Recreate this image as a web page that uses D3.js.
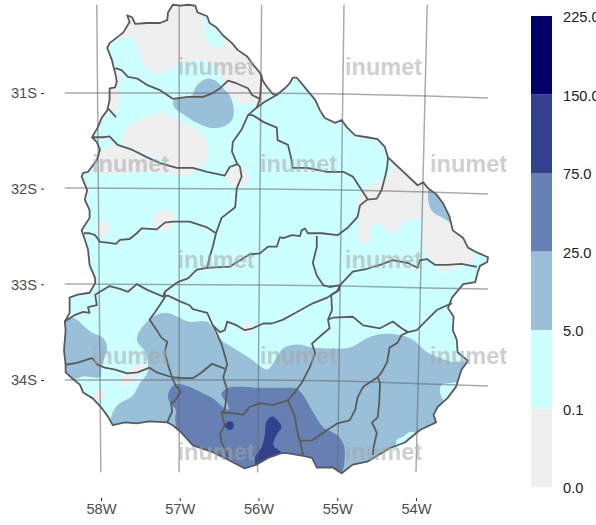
<!DOCTYPE html>
<html>
<head>
<meta charset="utf-8">
<script src="https://cdn.jsdelivr.net/npm/d3@7/dist/d3.min.js"></script>
<style>
html,body{margin:0;padding:0;background:#fff;overflow:hidden}
text{font-family:"Liberation Sans",Arial,sans-serif}
</style>
</head>
<body>
<svg id="map" width="596" height="525"></svg>
<script>
// rainfall classes, low to high
const legendLabels = ["0.0","0.1","5.0","25.0","75.0","150.0","225.0"];
const classColors = ["#efefef","#ccffff","#99bfd9","#6680b3","#33408c","#000066"];

const lonTicks = [-58,-57,-56,-55,-54];
const latTicks = [-31,-32,-33,-34];

// graticule, it is slightly bent
const meridianTop = [-58.04,-57.01,-55.98,-54.95,-53.91];
const meridianBottom = [-57.99,-57.01,-56.03,-55.03,-54.05];
const meridianLats = [-30.06,-34.93];
const parallelLons = [-58.44,-55.98,-54.95,-53.91,-53.15];
const parallels = [
  [-30.98,-30.98,-30.99,-31.01,-31.03],
  [-31.97,-31.98,-31.99,-32.01,-32.03],
  [-32.97,-32.98,-32.99,-33.01,-33.02],
  [-33.97,-33.97,-33.98,-34.01,-34.03]
];

const outline = [[-57.09,-30.06],[-56.99,-30.07],[-56.90,-30.06],[-56.81,-30.07],[-56.78,-30.14],[-56.66,-30.18],[-56.63,-30.25],[-56.54,-30.30],[-56.46,-30.38],[-56.35,-30.46],[-56.28,-30.53],[-56.16,-30.60],[-56.10,-30.67],[-56.00,-30.77],[-55.96,-30.86],[-55.90,-30.93],[-55.84,-30.99],[-55.79,-31.00],[-55.69,-30.93],[-55.63,-30.88],[-55.59,-30.82],[-55.54,-30.82],[-55.46,-30.90],[-55.38,-30.98],[-55.31,-31.05],[-55.25,-31.16],[-55.19,-31.24],[-55.06,-31.29],[-54.98,-31.26],[-54.91,-31.34],[-54.81,-31.42],[-54.66,-31.44],[-54.53,-31.46],[-54.44,-31.54],[-54.40,-31.65],[-54.03,-31.94],[-53.96,-31.91],[-53.90,-31.97],[-53.79,-32.04],[-53.71,-32.13],[-53.63,-32.27],[-53.59,-32.41],[-53.46,-32.49],[-53.40,-32.59],[-53.29,-32.64],[-53.15,-32.69],[-53.16,-32.74],[-53.25,-32.78],[-53.28,-32.85],[-53.31,-32.95],[-53.46,-32.97],[-53.54,-33.05],[-53.60,-33.11],[-53.65,-33.22],[-53.58,-33.31],[-53.59,-33.45],[-53.54,-33.55],[-53.53,-33.68],[-53.40,-33.77],[-53.48,-33.86],[-53.55,-34.04],[-53.66,-34.16],[-53.78,-34.25],[-53.83,-34.33],[-53.80,-34.41],[-54.00,-34.49],[-54.19,-34.62],[-54.38,-34.68],[-54.66,-34.82],[-54.84,-34.85],[-54.98,-34.94],[-55.09,-34.88],[-55.29,-34.88],[-55.35,-34.78],[-55.46,-34.76],[-55.66,-34.73],[-55.73,-34.73],[-55.90,-34.78],[-56.04,-34.85],[-56.19,-34.89],[-56.40,-34.80],[-56.59,-34.72],[-56.84,-34.65],[-56.98,-34.52],[-57.09,-34.44],[-57.16,-34.41],[-57.38,-34.40],[-57.54,-34.42],[-57.69,-34.41],[-57.84,-34.44],[-57.90,-34.35],[-57.98,-34.26],[-58.09,-34.16],[-58.21,-34.10],[-58.25,-34.02],[-58.35,-33.95],[-58.43,-33.89],[-58.43,-33.81],[-58.45,-33.66],[-58.43,-33.45],[-58.44,-33.36],[-58.38,-33.27],[-58.38,-33.11],[-58.28,-33.08],[-58.13,-33.06],[-58.06,-32.96],[-58.06,-32.91],[-58.13,-32.77],[-58.15,-32.61],[-58.20,-32.48],[-58.23,-32.41],[-58.13,-32.28],[-58.13,-32.20],[-58.19,-32.09],[-58.16,-31.99],[-58.23,-31.85],[-58.21,-31.81],[-58.15,-31.80],[-58.04,-31.68],[-58.00,-31.57],[-58.04,-31.49],[-58.10,-31.44],[-58.03,-31.34],[-57.98,-31.24],[-57.91,-31.16],[-57.88,-31.05],[-57.88,-30.93],[-57.81,-30.92],[-57.79,-30.86],[-57.81,-30.77],[-57.83,-30.71],[-57.85,-30.64],[-57.91,-30.51],[-57.88,-30.46],[-57.71,-30.35],[-57.63,-30.24],[-57.66,-30.17],[-57.60,-30.19],[-57.56,-30.26],[-57.41,-30.25],[-57.25,-30.25],[-57.16,-30.22],[-57.15,-30.14]];

// department borders
const borders = [
  [[-57.81,-30.72],[-57.73,-30.74],[-57.65,-30.81],[-57.53,-30.83],[-57.40,-30.90],[-57.25,-30.95],[-57.16,-31.00],[-57.09,-31.04],[-56.90,-31.02],[-56.71,-31.02],[-56.59,-30.98],[-56.50,-30.93],[-56.40,-30.85],[-56.29,-30.88],[-56.15,-30.93],[-56.10,-31.00],[-56.00,-31.04]],
  [[-55.98,-30.79],[-56.00,-31.04],[-56.04,-31.13],[-56.15,-31.21]],
  [[-56.04,-31.13],[-55.94,-31.07],[-55.79,-31.00]],
  [[-56.15,-31.21],[-56.09,-31.21],[-55.96,-31.28],[-55.79,-31.34],[-55.78,-31.47],[-55.65,-31.52],[-55.61,-31.66],[-55.59,-31.76],[-55.41,-31.76],[-55.16,-31.80],[-54.96,-31.80],[-54.84,-31.85],[-54.73,-31.99],[-54.65,-32.09]],
  [[-54.40,-31.65],[-54.41,-31.75],[-54.43,-31.83],[-54.48,-31.99],[-54.54,-32.08],[-54.66,-32.09],[-54.75,-32.15],[-54.78,-32.27],[-54.90,-32.38],[-55.03,-32.46],[-55.23,-32.44],[-55.40,-32.44],[-55.44,-32.39],[-55.48,-32.41],[-55.50,-32.47],[-55.60,-32.46],[-55.71,-32.49],[-55.75,-32.48],[-55.79,-32.58],[-55.90,-32.58],[-56.00,-32.65],[-56.13,-32.66],[-56.38,-32.79],[-56.44,-32.79],[-56.66,-32.80],[-56.79,-32.82],[-56.90,-32.91],[-57.03,-32.95],[-57.13,-33.01],[-57.19,-33.05]],
  [[-56.15,-31.21],[-56.23,-31.36],[-56.34,-31.49],[-56.35,-31.59],[-56.29,-31.71],[-56.25,-31.75],[-56.23,-31.85],[-56.29,-31.97],[-56.31,-32.17],[-56.48,-32.28],[-56.55,-32.44],[-56.59,-32.58],[-56.63,-32.69],[-56.66,-32.80]],
  [[-58.10,-31.44],[-57.96,-31.44],[-57.88,-31.43],[-57.78,-31.52],[-57.60,-31.57],[-57.41,-31.65],[-57.25,-31.71],[-57.04,-31.76],[-56.84,-31.76],[-56.66,-31.80],[-56.44,-31.84],[-56.38,-31.75],[-56.28,-31.72]],
  [[-58.20,-32.44],[-58.13,-32.44],[-58.06,-32.46],[-58.00,-32.53],[-57.88,-32.54],[-57.80,-32.55],[-57.75,-32.51],[-57.63,-32.50],[-57.54,-32.44],[-57.48,-32.39],[-57.29,-32.40],[-57.19,-32.33],[-57.09,-32.32],[-56.88,-32.32],[-56.66,-32.38],[-56.55,-32.44]],
  [[-58.44,-33.36],[-58.31,-33.29],[-58.21,-33.26],[-58.13,-33.27],[-58.15,-33.21],[-58.04,-33.19],[-58.06,-33.08],[-58.00,-33.05],[-57.88,-32.99],[-57.75,-33.02],[-57.65,-33.05],[-57.54,-32.97],[-57.41,-33.03],[-57.21,-33.10],[-57.19,-33.05]],
  [[-57.21,-33.10],[-57.15,-33.09],[-57.00,-33.15],[-56.88,-33.19],[-56.84,-33.23],[-56.66,-33.27],[-56.59,-33.40],[-56.50,-33.47],[-56.44,-33.45],[-56.41,-33.36],[-56.29,-33.40],[-56.19,-33.45],[-56.09,-33.43],[-55.96,-33.38],[-55.85,-33.38],[-55.71,-33.34],[-55.56,-33.27],[-55.34,-33.17],[-55.16,-33.11],[-55.04,-33.05],[-55.00,-32.98]],
  [[-55.29,-32.47],[-55.29,-32.58],[-55.34,-32.75],[-55.29,-32.88],[-55.21,-32.98],[-55.13,-33.00],[-55.00,-32.98],[-54.84,-32.84],[-54.66,-32.81],[-54.50,-32.77],[-54.34,-32.72],[-54.15,-32.75],[-54.03,-32.80],[-54.00,-32.72],[-53.91,-32.71],[-53.81,-32.77],[-53.66,-32.77],[-53.48,-32.76],[-53.29,-32.79]],
  [[-55.00,-32.98],[-55.01,-33.03],[-55.11,-33.08],[-55.10,-33.24],[-55.15,-33.34],[-55.13,-33.43],[-55.23,-33.50],[-55.35,-33.59],[-55.31,-33.69],[-55.38,-33.84],[-55.48,-34.00],[-55.56,-34.09],[-55.65,-34.18],[-55.84,-34.23],[-56.00,-34.21],[-56.13,-34.25],[-56.21,-34.33],[-56.38,-34.31],[-56.48,-34.31],[-56.44,-34.44],[-56.50,-34.53],[-56.48,-34.62],[-56.40,-34.77]],
  [[-57.19,-33.05],[-57.19,-33.11],[-57.31,-33.26],[-57.38,-33.34],[-57.29,-33.45],[-57.23,-33.53],[-57.16,-33.57],[-57.19,-33.68],[-57.15,-33.81],[-57.10,-33.94],[-57.06,-34.02],[-56.99,-34.09],[-57.06,-34.18],[-57.11,-34.21],[-57.10,-34.30],[-57.16,-34.41]],
  [[-58.43,-33.81],[-58.29,-33.79],[-58.10,-33.74],[-58.03,-33.81],[-57.94,-33.84],[-57.81,-33.86],[-57.66,-33.90],[-57.53,-33.89],[-57.38,-33.84],[-57.29,-33.89],[-57.10,-33.94],[-56.96,-33.95],[-56.84,-33.95],[-56.73,-33.89],[-56.60,-33.80],[-56.44,-33.85]],
  [[-56.59,-33.40],[-56.54,-33.48],[-56.48,-33.60],[-56.44,-33.71],[-56.41,-33.81],[-56.46,-33.94],[-56.41,-34.07],[-56.44,-34.28],[-56.48,-34.31]],
  [[-55.15,-33.34],[-55.09,-33.32],[-54.84,-33.31],[-54.71,-33.40],[-54.50,-33.43],[-54.34,-33.36],[-54.23,-33.43],[-54.15,-33.47],[-54.04,-33.45],[-53.91,-33.34],[-53.79,-33.24],[-53.66,-33.19],[-53.60,-33.17]],
  [[-54.15,-33.47],[-54.23,-33.50],[-54.28,-33.58],[-54.38,-33.63],[-54.41,-33.78],[-54.48,-33.89],[-54.53,-33.94],[-54.50,-34.00],[-54.51,-34.21],[-54.53,-34.36],[-54.60,-34.41],[-54.54,-34.52],[-54.58,-34.67],[-54.59,-34.75]],
  [[-54.53,-33.94],[-54.71,-34.04],[-54.78,-34.15],[-54.81,-34.28],[-54.88,-34.39],[-55.03,-34.42],[-55.16,-34.49],[-55.35,-34.60],[-55.50,-34.60]],
  [[-55.65,-34.18],[-55.56,-34.36],[-55.54,-34.49],[-55.50,-34.61],[-55.46,-34.76]],
  [[-57.90,-31.14],[-57.80,-31.23]]
];

// rainfall areas, each with its class index in classColors
const greyAreas = [
  [[-57.69,-30.40],[-57.60,-30.39],[-57.53,-30.50],[-57.48,-30.64],[-57.40,-30.74],[-57.25,-30.77],[-57.10,-30.72],[-57.00,-30.67],[-56.75,-30.64],[-56.59,-30.67],[-56.49,-30.79],[-56.43,-30.93],[-56.35,-31.03],[-56.21,-31.09],[-56.08,-31.10],[-55.96,-31.07],[-55.91,-31.00],[-55.91,-30.90],[-55.98,-30.64],[-56.25,-30.38],[-56.43,-30.39],[-56.44,-30.46],[-56.54,-30.50],[-56.65,-30.45],[-56.70,-30.32],[-56.71,-30.22],[-56.70,-30.11],[-57.13,-30.01],[-57.88,-30.06],[-58.00,-30.32]],
  [[-57.84,-30.74],[-57.75,-30.72],[-57.73,-30.79],[-57.75,-30.88],[-57.84,-30.89]],
  [[-57.90,-30.93],[-57.78,-30.93],[-57.75,-31.01],[-57.76,-31.10],[-57.83,-31.19],[-57.93,-31.19]],
  [[-57.73,-31.47],[-57.65,-31.33],[-57.46,-31.24],[-57.29,-31.19],[-57.16,-31.19],[-57.04,-31.26],[-56.88,-31.31],[-56.73,-31.40],[-56.65,-31.54],[-56.66,-31.68],[-56.78,-31.76],[-56.85,-31.81],[-56.98,-31.84],[-57.13,-31.80],[-57.16,-31.71],[-57.38,-31.63],[-57.59,-31.57],[-57.73,-31.50]],
  [[-58.03,-31.68],[-57.94,-31.55],[-57.78,-31.53],[-57.50,-31.63],[-57.19,-31.73],[-57.13,-31.80],[-57.38,-31.80],[-57.69,-31.81],[-58.00,-31.81],[-58.05,-31.76]],
  [[-56.41,-31.83],[-56.35,-31.76],[-56.28,-31.74],[-56.19,-31.78],[-56.13,-31.86],[-56.19,-31.94],[-56.29,-31.96],[-56.38,-31.92]],
  [[-57.34,-32.30],[-57.30,-32.23],[-57.20,-32.19],[-57.10,-32.22],[-57.06,-32.30],[-57.10,-32.36],[-57.19,-32.41],[-57.29,-32.40]],
  [[-58.05,-32.39],[-58.01,-32.33],[-57.95,-32.31],[-57.89,-32.34],[-57.88,-32.40],[-57.91,-32.45],[-57.98,-32.46],[-58.03,-32.44]],
  [[-54.34,-31.76],[-54.40,-31.85],[-54.53,-31.91],[-54.69,-31.97],[-54.78,-32.11],[-54.75,-32.33],[-54.79,-32.44],[-54.75,-32.53],[-54.65,-32.53],[-54.61,-32.38],[-54.50,-32.33],[-54.38,-32.43],[-54.29,-32.43],[-54.21,-32.32],[-54.00,-32.28],[-53.94,-32.29],[-54.00,-32.39],[-54.00,-32.49],[-53.94,-32.64],[-53.81,-32.75],[-53.75,-32.83],[-53.66,-32.85],[-53.60,-32.80],[-53.50,-32.79],[-53.38,-32.75],[-53.31,-32.69],[-53.41,-32.56],[-53.38,-32.46],[-53.56,-32.25],[-53.75,-31.99],[-54.00,-31.78],[-54.31,-31.63]],
  [[-56.23,-33.43],[-56.20,-33.39],[-56.14,-33.36],[-56.09,-33.41],[-56.08,-33.45],[-56.11,-33.49],[-56.18,-33.50],[-56.21,-33.47]],
  [[-57.75,-33.97],[-57.69,-33.89],[-57.54,-33.81],[-57.41,-33.79],[-57.46,-33.86],[-57.54,-33.95],[-57.65,-34.02],[-57.73,-34.02]],
  [[-58.09,-34.13],[-58.06,-34.08],[-58.01,-34.06],[-57.95,-34.08],[-57.94,-34.13],[-57.96,-34.17],[-58.01,-34.19],[-58.06,-34.17]]
];
const lightBlueAreas = [
  [[-53.90,-32.01],[-53.89,-32.13],[-53.84,-32.22],[-53.71,-32.28],[-53.60,-32.33],[-53.44,-32.25],[-53.69,-31.99],[-53.88,-31.89]],
  [[-56.85,-31.00],[-56.79,-30.90],[-56.66,-30.83],[-56.54,-30.86],[-56.46,-30.93],[-56.38,-31.00],[-56.33,-31.14],[-56.35,-31.26],[-56.46,-31.33],[-56.63,-31.34],[-56.79,-31.29],[-56.94,-31.21],[-57.06,-31.14],[-57.09,-31.07],[-57.03,-31.03],[-56.91,-31.02]],
  [[-58.40,-33.32],[-58.29,-33.34],[-58.21,-33.40],[-58.09,-33.48],[-57.96,-33.53],[-57.91,-33.63],[-57.94,-33.73],[-57.98,-33.83],[-58.00,-33.94],[-58.10,-33.94],[-58.19,-33.93],[-58.28,-33.95],[-58.50,-33.97],[-58.56,-33.66],[-58.56,-33.40]],
  [[-57.53,-33.50],[-57.41,-33.36],[-57.29,-33.29],[-57.16,-33.27],[-57.03,-33.31],[-56.90,-33.36],[-56.66,-33.36],[-56.59,-33.43],[-56.53,-33.52],[-56.34,-33.63],[-56.13,-33.74],[-55.91,-33.86],[-55.85,-33.81],[-55.71,-33.64],[-55.54,-33.60],[-55.34,-33.63],[-55.09,-33.64],[-54.88,-33.63],[-54.63,-33.52],[-54.46,-33.49],[-54.25,-33.50],[-54.09,-33.55],[-53.91,-33.68],[-53.75,-33.74],[-53.54,-33.79],[-53.38,-33.76],[-53.31,-33.89],[-53.54,-33.99],[-53.73,-34.02],[-53.75,-34.10],[-53.69,-34.21],[-53.63,-34.33],[-53.94,-34.53],[-54.13,-34.51],[-54.21,-34.56],[-54.29,-34.59],[-54.31,-34.67],[-54.75,-35.01],[-56.13,-35.11],[-57.63,-34.59],[-57.88,-34.54],[-57.86,-34.35],[-57.78,-34.23],[-57.59,-34.13],[-57.50,-34.00],[-57.41,-33.90],[-57.40,-33.79],[-57.44,-33.67],[-57.53,-33.57]]
];
const midBlueAreas = [
  [[-57.03,-34.01],[-56.88,-34.04],[-56.71,-34.11],[-56.59,-34.16],[-56.48,-34.24],[-56.40,-34.28],[-56.40,-34.22],[-56.46,-34.16],[-56.48,-34.11],[-56.40,-34.05],[-56.25,-34.04],[-56.03,-34.05],[-55.71,-34.05],[-55.54,-34.06],[-55.45,-34.14],[-55.34,-34.30],[-55.21,-34.46],[-55.04,-34.54],[-54.96,-34.63],[-54.94,-34.75],[-55.00,-34.96],[-55.50,-35.11],[-56.50,-35.11],[-57.05,-34.59],[-57.05,-34.46],[-57.06,-34.36],[-57.05,-34.28],[-57.13,-34.20],[-57.15,-34.13],[-57.10,-34.04]]
];
const darkBlueAreas = [
  [[-55.91,-34.39],[-55.85,-34.35],[-55.78,-34.39],[-55.73,-34.46],[-55.78,-34.52],[-55.81,-34.57],[-55.83,-34.65],[-55.73,-34.73],[-55.69,-34.91],[-56.06,-34.96],[-56.06,-34.83],[-56.06,-34.77],[-55.98,-34.67],[-55.94,-34.54],[-55.93,-34.44]],
  [[-56.44,-34.44],[-56.40,-34.40],[-56.34,-34.41],[-56.33,-34.46],[-56.38,-34.49],[-56.44,-34.45]]
];

const watermarkRows = [75,171.5,268,363.5,460];
const watermarkCols = [[177.5,345],[92,260,430]];

// map scales, 80px a degree of longitude and 96px a degree of latitude
const x = d3.scaleLinear().domain([-58,-54]).range([100,420]);
const y = d3.scaleLinear().domain([-31,-34]).range([95,383]);
// axis labels follow the graticule where it leaves the map
const lonAxis = d3.scaleLinear().domain([-58,-54]).range([101,416]);
const latAxis = d3.scaleLinear().domain([-31,-34]).range([93,380]);

const svg = d3.select("#map");
const lineOpen = d3.line().x(d => x(d[0])).y(d => y(d[1]));
const lineClosed = d3.line().x(d => x(d[0])).y(d => y(d[1])).curve(d3.curveCatmullRomClosed.alpha(0.5));
const outlinePath = lineOpen(outline) + "Z";

svg.append("clipPath").attr("id","land").append("path").attr("d",outlinePath);

const land = svg.append("g").attr("clip-path","url(#land)");
land.append("path").attr("d",outlinePath).attr("fill",classColors[1]);

function drawAreas(areas,color) {
  land.selectAll(null).data(areas).enter().append("path")
    .attr("d",lineClosed)
    .attr("fill",color);
}
drawAreas(greyAreas,classColors[0]);
drawAreas(lightBlueAreas,classColors[2]);
drawAreas(midBlueAreas,classColors[3]);
drawAreas(darkBlueAreas,classColors[4]);

// graticule
const gridStyle = sel => sel.attr("fill","none").attr("stroke","#666").attr("stroke-opacity",0.55).attr("stroke-width",1.5);
svg.selectAll(null).data(lonTicks).enter().append("path")
  .attr("d",(d,i) => lineOpen([[meridianTop[i],meridianLats[0]],[meridianBottom[i],meridianLats[1]]]))
  .call(gridStyle);
svg.selectAll(null).data(parallels).enter().append("path")
  .attr("d",d => lineOpen(d.map((lat,i) => [parallelLons[i],lat])))
  .call(gridStyle);

// borders
svg.selectAll(null).data(borders).enter().append("path")
  .attr("d",lineOpen)
  .attr("fill","none").attr("stroke","#5a5a5a").attr("stroke-width",1.8).attr("stroke-linejoin","round");
svg.append("path").attr("d",outlinePath)
  .attr("fill","none").attr("stroke","#5a5a5a").attr("stroke-width",1.8).attr("stroke-linejoin","round");

// watermark
watermarkRows.forEach((rowY,i) => {
  watermarkCols[i % 2].forEach(colX => {
    svg.append("text").attr("x",colX).attr("y",rowY).text("inumet")
      .attr("font-size",23.5).attr("font-weight","bold")
      .attr("fill","#a6a6a6").attr("fill-opacity",0.55);
  });
});

// axes
const axisStyle = g => {
  g.select(".domain").remove();
  g.selectAll("line").attr("stroke","#333");
  g.selectAll("text").attr("fill","#4d4d4d").attr("font-size",14.67)
    .attr("font-family","'Liberation Sans',Arial,sans-serif");
};
svg.append("g").attr("transform","translate(0,498)")
  .call(d3.axisBottom(lonAxis).tickValues(lonTicks).tickSize(3).tickPadding(3).tickFormat(d => Math.abs(d) + "W"))
  .call(axisStyle);
svg.append("g").attr("transform","translate(44,0)")
  .call(d3.axisLeft(latAxis).tickValues(latTicks).tickSize(3).tickPadding(4).tickFormat(d => Math.abs(d) + "S"))
  .call(axisStyle);

// legend
const legendY = d3.scalePoint().domain(legendLabels).range([487,16]);
svg.selectAll(null).data(classColors).enter().append("rect")
  .attr("x",531).attr("width",21)
  .attr("y",(d,i) => legendY(legendLabels[i+1]))
  .attr("height",(d,i) => legendY(legendLabels[i]) - legendY(legendLabels[i+1]))
  .attr("fill",d => d);
svg.selectAll(null).data(legendLabels).enter().append("text")
  .attr("x",563).attr("y",d => legendY(d) + 6)
  .attr("font-size",14.67).attr("fill","#222")
  .text(d => d);
</script>
</body>
</html>
